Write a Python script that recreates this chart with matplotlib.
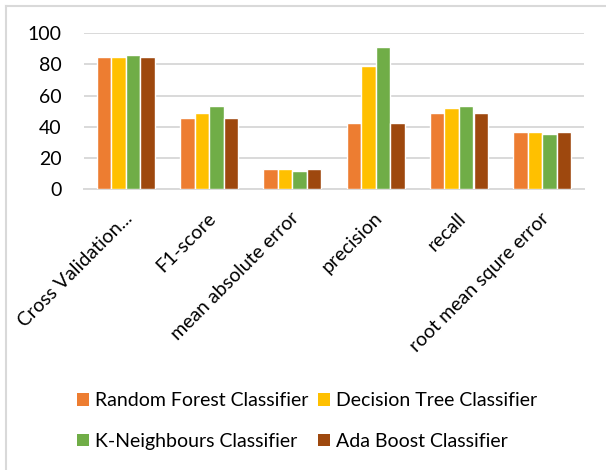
import numpy as np
import matplotlib
matplotlib.use("Agg")
import matplotlib.pyplot as plt
from matplotlib.patches import Patch
from matplotlib.lines import Line2D
from matplotlib.transforms import ScaledTranslation

plt.rcParams['font.family'] = ['Lato', 'DejaVu Sans']

categories = ["Cross Validation...", "F1-score", "mean absolute error",
              "precision", "recall", "root mean squre error"]
series_names = ["Random Forest Classifier", "Decision Tree Classifier",
                "K-Neighbours Classifier", "Ada Boost Classifier"]
random_forest = [85, 45.5, 13, 42.7, 49, 36.3]
decision_tree = [85, 49, 13, 78.7, 51.8, 36.3]
k_neighbours = [86.3, 53, 11.8, 91.4, 53, 35.1]
ada_boost = [85, 45.5, 13, 42.7, 49, 36.3]
y_ticks = [0, 20, 40, 60, 80, 100]

colors = ["#ED7D31", "#FFC000", "#70AD47", "#9E480E"]
series = [random_forest, decision_tree, k_neighbours, ada_boost]

W, H = 606, 470
fig = plt.figure(figsize=(W / 100, H / 100), dpi=100)
ax = fig.add_axes([84 / W, (H - 189) / H, 500 / W, (189 - 33.3) / H])

x = np.arange(len(categories))
bw = 0.174
bars = []
for i, (vals, c, name) in enumerate(zip(series, colors, series_names)):
    b = ax.bar(x + (i - 1.5) * bw, vals, width=bw, color=c, edgecolor="white",
               linewidth=1.0, label=name, zorder=3)
    bars.append(b)

ax.set_xlim(-0.5, len(categories) - 0.5)
ax.set_ylim(0, 100)
ax.set_yticks(y_ticks)
ax.set_yticklabels([str(t) for t in y_ticks], fontsize=14, color="black")
ax.yaxis.grid(True, color="#d9d9d9", linewidth=1.4, zorder=0)
ax.set_axisbelow(True)
for s in ["top", "right", "left"]:
    ax.spines[s].set_visible(False)
ax.spines["bottom"].set_color("#d9d9d9")
ax.spines["bottom"].set_linewidth(1.4)
ax.tick_params(axis="both", length=0)
ax.tick_params(axis="y", pad=16)

ax.set_xticks(x)
ax.set_xticklabels(categories, rotation=45, ha="right", va="center",
                   rotation_mode="anchor", fontsize=14, color="black")
ax.tick_params(axis="x", pad=19)
off = ScaledTranslation(4 / 100, 0, fig.dpi_scale_trans)
for lab in ax.get_xticklabels():
    lab.set_transform(lab.get_transform() + off)

# legend filled row-wise: RF, DT / KN, AB
order = [0, 2, 1, 3]
handles = [Patch(facecolor=colors[k], edgecolor="none") for k in order]
labels = [series_names[k] for k in order]
fig.legend(handles, labels, ncol=2, loc="center",
           bbox_to_anchor=(307 / W, (H - 421) / H), frameon=False,
           fontsize=14, handlelength=0.62, handleheight=0.62,
           handletextpad=0.35, columnspacing=0.45, labelspacing=1.2)

# chart-area border (left and top edges visible)
fig.add_artist(Line2D([6 / W, 6 / W], [0, 1 - 6 / H], transform=fig.transFigure,
                      color="#d9d9d9", linewidth=1.5))
fig.add_artist(Line2D([6 / W, 1], [1 - 6 / H, 1 - 6 / H], transform=fig.transFigure,
                      color="#d9d9d9", linewidth=1.5))

fig.savefig("out.png", dpi=100)
